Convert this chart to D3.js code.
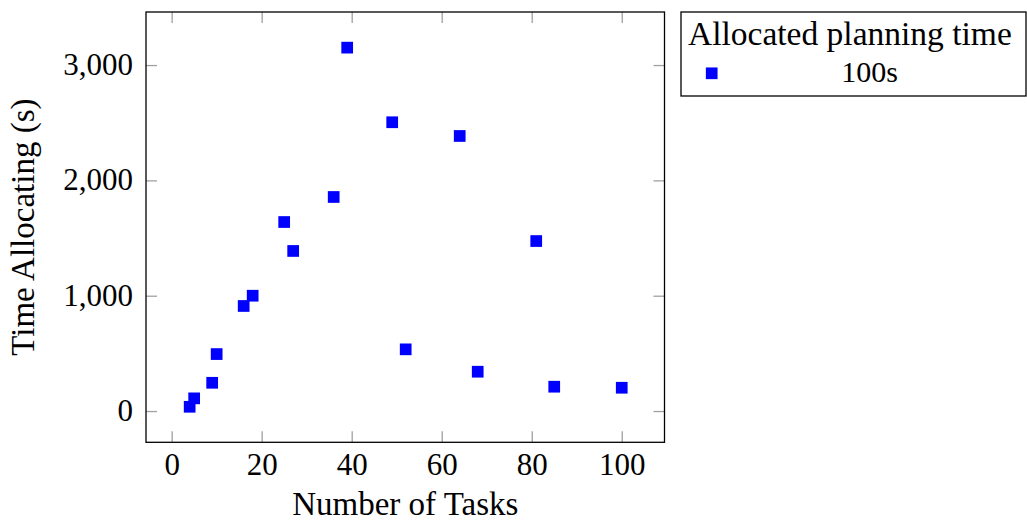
<!DOCTYPE html>
<meta charset="utf-8">
<style>
body { margin: 0; background: #fff; }
text { font-family: "Liberation Serif", serif; fill: #000; }
.axis path { display: none; }
.axis line { stroke: #a0a0a0; stroke-width: 1.3; }
.axis text { font-size: 31px; }
.frame { fill: none; stroke: #000; stroke-width: 1.3; }
</style>
<body>
<div id="plotHere"></div>

<script src="https://cdn.jsdelivr.net/npm/d3@7"></script>
<script>
//------------------------ DATA ------------------------//
const tasks = [4, 5, 9, 10, 16, 18, 25, 27, 36, 39, 49, 52, 64, 68, 81, 85, 100];
const timeAllocating = [37, 110, 245, 494, 911, 1000, 1639, 1388, 1856, 3151, 2504, 535, 2385, 341, 1474, 211, 202];
const xTicks = [0, 20, 40, 60, 80, 100];
const yTicks = [0, 1000, 2000, 3000];

const xlabel = "Number of Tasks";
const ylabel = "Time Allocating (s)";
const legendTitle = "Allocated planning time";
const seriesName = "100s";

//------------------------ SVG ------------------------//
var W = 1027, H = 524;
var plot = {left: 146, right: 664.5, top: 12, bottom: 442.3};
var ticIn = -11;
var markSize = 11.7;

var svg = d3.select("#plotHere").append("svg")
    .attr("width", W)
    .attr("height", H);

// scales (data range padded 10% each side, like pgfplots)
var x = d3.scaleLinear().domain([-5.7, 109.5]).range([plot.left, plot.right]);
var y = d3.scaleLinear().domain([-271, 3460]).range([plot.bottom, plot.top]);

//------------------------ AXES ------------------------//
svg.append("g")
    .attr("class", "axis")
    .attr("transform", "translate(0," + plot.bottom + ")")
    .call(d3.axisBottom(x).tickValues(xTicks).tickSizeInner(ticIn).tickSizeOuter(0).tickPadding(33))
  .selectAll("text")
    .attr("dy", 0);

svg.append("g")
    .attr("class", "axis")
    .attr("transform", "translate(0," + plot.top + ")")
    .call(d3.axisTop(x).tickValues(xTicks).tickSizeInner(ticIn).tickSizeOuter(0).tickFormat(""));

svg.append("g")
    .attr("class", "axis")
    .attr("transform", "translate(" + plot.left + ",0)")
    .call(d3.axisLeft(y).tickValues(yTicks).tickSizeInner(ticIn).tickSizeOuter(0).tickPadding(13).tickFormat(d3.format(",")))
  .selectAll("text")
    .attr("dy", "0.3em");

svg.append("g")
    .attr("class", "axis")
    .attr("transform", "translate(" + plot.right + ",0)")
    .call(d3.axisRight(y).tickValues(yTicks).tickSizeInner(ticIn).tickSizeOuter(0).tickFormat(""));

// frame
svg.append("rect")
    .attr("class", "frame")
    .attr("x", plot.left)
    .attr("y", plot.top)
    .attr("width", plot.right - plot.left)
    .attr("height", plot.bottom - plot.top);

// axis labels
svg.append("text")
    .attr("x", (plot.left + plot.right) / 2)
    .attr("y", 515)
    .attr("text-anchor", "middle")
    .style("font-size", "33px")
    .text(xlabel);

svg.append("text")
    .attr("transform", "translate(34," + (plot.top + plot.bottom) / 2 + ") rotate(-90)")
    .attr("text-anchor", "middle")
    .style("font-size", "33px")
    .text(ylabel);

//------------------------ POINTS ------------------------//
var pts = tasks.map(function(t, i) { return {t: t, v: timeAllocating[i]}; });

svg.append("g").selectAll("rect")
    .data(pts)
  .enter().append("rect")
    .attr("x", function(d) { return x(d.t) - markSize / 2; })
    .attr("y", function(d) { return y(d.v) - markSize / 2; })
    .attr("width", markSize)
    .attr("height", markSize)
    .attr("fill", "#0000ff");

//------------------------ LEGEND ------------------------//
var lg = svg.append("g");
lg.append("rect")
    .attr("class", "frame")
    .attr("x", 681)
    .attr("y", 12)
    .attr("width", 345)
    .attr("height", 84);
lg.append("text")
    .attr("x", 688)
    .attr("y", 45)
    .style("font-size", "33.5px")
    .text(legendTitle);
lg.append("rect")
    .attr("x", 711.7 - markSize / 2)
    .attr("y", 73.3 - markSize / 2)
    .attr("width", markSize)
    .attr("height", markSize)
    .attr("fill", "#0000ff");
lg.append("text")
    .attr("x", 869.5)
    .attr("y", 81.7)
    .attr("text-anchor", "middle")
    .style("font-size", "30px")
    .text(seriesName);
</script>
</body>
